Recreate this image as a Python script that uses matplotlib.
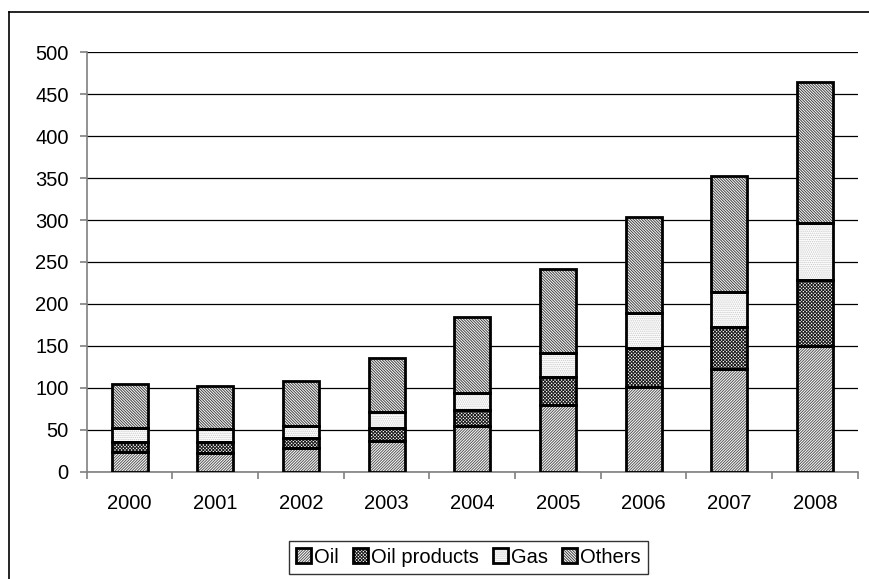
import matplotlib
matplotlib.use("Agg")
import matplotlib.pyplot as plt
from matplotlib.lines import Line2D
import numpy as np

plt.rcParams['font.family'] = ['Liberation Sans', 'DejaVu Sans']
plt.rcParams['hatch.linewidth'] = 0.7

years        = ["2000", "2001", "2002", "2003", "2004", "2005", "2006", "2007", "2008"]
oil          = [23, 22, 28, 37, 55, 80, 101, 122, 150]
oil_products = [12, 13, 12, 15, 19, 33, 46, 51, 79]
gas          = [17, 16, 14, 19, 20, 28, 42, 41, 67]
others       = [53, 51, 54, 65, 90, 101, 115, 138, 169]

series = [
    ("Oil",          oil,          "/" * 12,  "#555555"),
    ("Oil products", oil_products, "x" * 10,  "#1a1a1a"),
    ("Gas",          gas,          "." * 8,   "#c8c8c8"),
    ("Others",       others,       "\\" * 12, "#404040"),
]

fig = plt.figure(figsize=(8.69, 5.79), dpi=100)
ax = fig.add_axes([0.0998, 0.1853, 0.8872, 0.7244])

x = np.arange(len(years))
width = 0.42
bottom = np.zeros(len(years))
handles = []
for label, vals, hatch, hcol in series:
    vals = np.array(vals, dtype=float)
    h = ax.bar(x, vals, width, bottom=bottom, color="white", edgecolor=hcol,
               hatch=hatch, linewidth=0, zorder=2)
    o = ax.bar(x, vals, width, bottom=bottom, fill=False, edgecolor="black",
               linewidth=2.0, zorder=3)
    handles.append(((h, o), label))
    bottom += vals

ax.set_xlim(-0.5, len(years) - 0.5)
ax.set_ylim(0, 500)
ax.set_yticks(np.arange(0, 501, 50))
ax.yaxis.grid(True, color="black", linewidth=0.9)
ax.set_axisbelow(True)

ax.set_xticks(x)
ax.set_xticklabels(years)
ax.set_xticks(np.arange(-0.5, len(years), 1.0), minor=True)

for side in ["top", "right"]:
    ax.spines[side].set_visible(False)
for side in ["left", "bottom"]:
    ax.spines[side].set_color("#808080")
    ax.spines[side].set_linewidth(1.2)

ax.tick_params(axis='x', which='major', length=0, pad=16, labelsize=14.5)
ax.tick_params(axis='x', which='minor', length=5, color="#808080", width=1.2)
ax.tick_params(axis='y', which='major', length=5, color="#808080", width=1.2,
               pad=8, labelsize=14.5)

leg = fig.legend([hh for hh, _ in handles], [lab for _, lab in handles],
                 loc="upper center", bbox_to_anchor=(0.539, 0.066), ncol=4,
                 fontsize=14.5, frameon=True, fancybox=False, edgecolor="black",
                 handlelength=0.75, handleheight=0.75, handletextpad=0.15,
                 columnspacing=0.7, borderpad=0.35, borderaxespad=0)
leg.get_frame().set_linewidth(1.0)

# outer chart border
fig.add_artist(Line2D([9 / 869, 1.0], [1 - 12 / 579, 1 - 12 / 579],
                      transform=fig.transFigure, color="black", linewidth=1.2))
fig.add_artist(Line2D([9 / 869, 9 / 869], [0.0, 1 - 12 / 579],
                      transform=fig.transFigure, color="black", linewidth=1.2))

fig.savefig("out.png", dpi=100)
